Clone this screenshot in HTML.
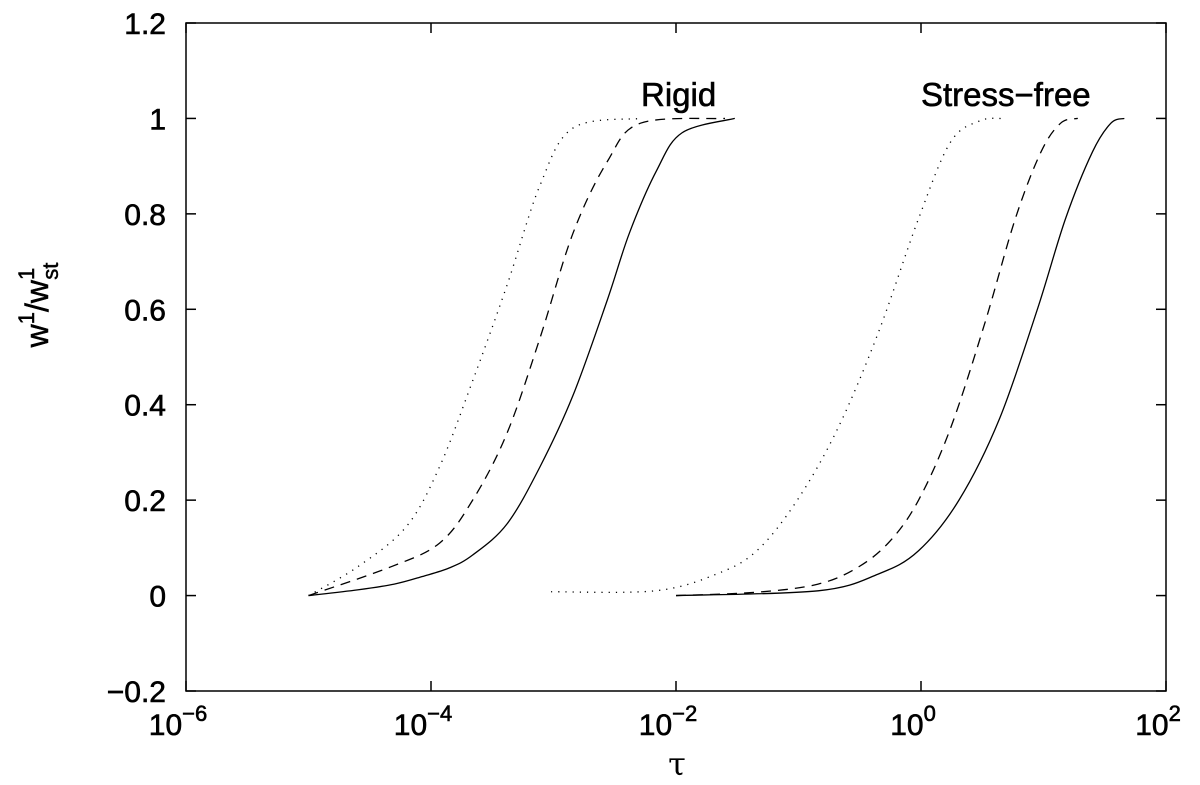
<!DOCTYPE html>
<html><head><meta charset="utf-8"><style>
html,body{margin:0;padding:0;background:#fff;}
svg{display:block;font-family:"Liberation Sans",Arial,sans-serif;}
</style></head><body>
<svg id="chart" width="1200" height="785" viewBox="0 0 1200 785" xmlns="http://www.w3.org/2000/svg">
<g id="axes"></g>
<g id="series"></g>
<text x="641" y="106" font-size="33" fill="#000" stroke="#000" stroke-width="0.6">Rigid</text>
<text x="921" y="106" font-size="33" fill="#000" stroke="#000" stroke-width="0.6">Stress−free</text>
<text x="677" y="775" font-size="32" text-anchor="middle" font-family="DejaVu Serif, serif">τ</text>
<text transform="translate(48,305) rotate(-90)" font-size="32" text-anchor="middle" stroke="#000" stroke-width="0.5">w<tspan dy="-14" font-size="22">1</tspan><tspan dy="14">/w</tspan><tspan dy="-14" font-size="22">1</tspan><tspan dy="24" dx="-12" font-size="22">st</tspan></text>
</svg>
<script>
const xTicks = [-6, -4, -2, 0, 2];
const yTicks = [-0.2, 0, 0.2, 0.4, 0.6, 0.8, 1, 1.2];
const yTickLabels = ["−0.2", "0", "0.2", "0.4", "0.6", "0.8", "1", "1.2"];
// log10(tau) and values
const rigidSolidX = [-5, -4.6, -4.3, -4.07, -3.85, -3.66, -3.38, -3.11, -2.84, -2.56, -2.38, -2.16, -1.95, -1.52];
const rigidSolidY = [0, 0.012, 0.024, 0.04, 0.058, 0.085, 0.15, 0.27, 0.42, 0.62, 0.76, 0.89, 0.97, 1.0];
const rigidDashX = [-5, -4.33, -3.93, -3.66, -3.38, -3.11, -2.84, -2.56, -2.29, -1.6];
const rigidDashY = [0, 0.06, 0.11, 0.20, 0.34, 0.54, 0.76, 0.91, 0.99, 1.0];
const rigidDotX = [-5, -4.6, -4.2, -3.93, -3.66, -3.38, -3.11, -2.84, -2.29];
const rigidDotY = [0, 0.06, 0.145, 0.27, 0.45, 0.65, 0.86, 0.98, 1.0];
const sfSolidX = [-2, -0.84, -0.35, -0.02, 0.31, 0.64, 0.95, 1.18, 1.40, 1.55, 1.66];
const sfSolidY = [0, 0.01, 0.045, 0.094, 0.20, 0.37, 0.60, 0.79, 0.93, 0.99, 1.0];
const sfDashX = [-2, -1.34, -0.84, -0.51, -0.25, -0.02, 0.24, 0.52, 0.77, 0.98, 1.14, 1.28];
const sfDashY = [0, 0.007, 0.024, 0.06, 0.115, 0.20, 0.35, 0.57, 0.79, 0.93, 0.99, 1.0];
const sfDotX = [-3.02, -2.17, -1.67, -1.34, -1.01, -0.68, -0.35, -0.02, 0.24, 0.48, 0.67];
const sfDotY = [0.008, 0.01, 0.045, 0.094, 0.20, 0.35, 0.55, 0.79, 0.95, 0.995, 1.0];

const L=186,R=1166,T=23,B=691;
const sx=v=>L+(v+6)/8*(R-L);
const sy=v=>B-(v+0.2)/1.4*(B-T);
const NS="http://www.w3.org/2000/svg";
const axes=document.getElementById('axes');
function mk(tag,attrs,parent){const e=document.createElementNS(NS,tag);for(const k in attrs)e.setAttribute(k,attrs[k]);parent.appendChild(e);return e;}
const frame=mk('rect',{x:L,y:T,width:R-L,height:B-T,fill:'none',stroke:'#000','stroke-width':1.5},axes);


xTicks.forEach(t=>{
  const x=sx(t);
  const a=mk('line',{x1:x,y1:B,x2:x,y2:B-10,stroke:'#000','stroke-width':1.5},axes);
  
  
  const b=mk('line',{x1:x,y1:T,x2:x,y2:T+10,stroke:'#000','stroke-width':1.5},axes);
  
  
  const tx=mk('text',{x:x-8,y:735,'font-size':30,'text-anchor':'middle',fill:'#000',stroke:'#000','stroke-width':0.6},axes);
  
  
  tx.textContent='10';
  const sup=mk('tspan',{dy:-14,'font-size':22},tx);
  sup.textContent=String(t).replace('-','−');
});
yTicks.forEach((t,i)=>{
  const y=sy(t);
  const a=mk('line',{x1:L,y1:y,x2:L+10,y2:y,stroke:'#000','stroke-width':1.5},axes);
  
  
  const b=mk('line',{x1:R,y1:y,x2:R-10,y2:y,stroke:'#000','stroke-width':1.5},axes);
  
  
  const tx=mk('text',{x:166,y:y+11,'font-size':30,'text-anchor':'end',fill:'#000',stroke:'#000','stroke-width':0.6},axes);
  
  
  tx.textContent=yTickLabels[i];
});
function pathFor(xs,ys){
  const p=xs.map((x,i)=>[sx(x),sy(ys[i])]);
  let d=`M${p[0][0]},${p[0][1]}`;
  for(let i=0;i<p.length-1;i++){
    const p0=p[i-1]||p[i],p1=p[i],p2=p[i+1],p3=p[i+2]||p2;
    const c1=[p1[0]+(p2[0]-p0[0])/6,p1[1]+(p2[1]-p0[1])/6];
    const c2=[p2[0]-(p3[0]-p1[0])/6,p2[1]-(p3[1]-p1[1])/6];
    d+=` C${c1[0]},${c1[1]} ${c2[0]},${c2[1]} ${p2[0]},${p2[1]}`;
  }
  return d;
}
const ser=document.getElementById('series');
const defs=[
 [rigidSolidX,rigidSolidY,'rigid-solid-line',null],
 [rigidDashX,rigidDashY,'rigid-dashed-line','10 7'],
 [rigidDotX,rigidDotY,'rigid-dotted-line','1.2 6'],
 [sfSolidX,sfSolidY,'stress-free-solid-line',null],
 [sfDashX,sfDashY,'stress-free-dashed-line','10 7'],
 [sfDotX,sfDotY,'stress-free-dotted-line','1.2 6'],
];
defs.forEach(([xs,ys,name,dash])=>{
  const a={d:pathFor(xs,ys),fill:'none',stroke:'#000','stroke-width':1.3};
  if(dash)a['stroke-dasharray']=dash;
  const e=mk('path',a,ser);
  
  
});
</script>
</body></html>
